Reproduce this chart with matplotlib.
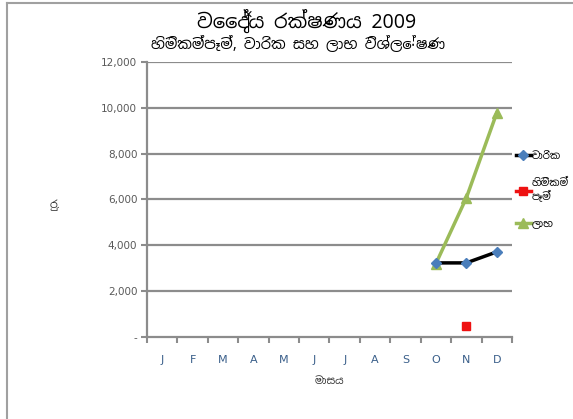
import matplotlib
matplotlib.use("Agg")
import matplotlib.pyplot as plt
from matplotlib.lines import Line2D

SI = ["Noto Sans Sinhala", "Noto Sans Sinhala UI", "DejaVu Sans"]

months = ["J", "F", "M", "A", "M", "J", "J", "A", "S", "O", "N", "D"]
# only Oct-Dec have data (index 9..11)
data_idx = [9, 10, 11]
premiums = [3230, 3230, 3710]      # වාරික
claims = [None, 480, None]         # හිමිකම් පෑම්
profit = [3200, 6070, 9780]        # ලාභ
y_ticks = [0, 2000, 4000, 6000, 8000, 10000, 12000]
y_labels = ["-", "2,000", "4,000", "6,000", "8,000", "10,000", "12,000"]

title = "වෛද්‍ය රක්ෂණය 2009"
subtitle = "හිමිකම්පෑම්, වාරික සහ ලාභ විශ්ලේෂණ"

fig = plt.figure(figsize=(5.73, 4.19), dpi=100)
ax = fig.add_axes([0.2565, 0.196, 0.637, 0.656])

grid_c = "#8c8c8c"
for y in y_ticks[1:]:
    ax.axhline(y, color=grid_c, lw=1.6, zorder=1)

ax.plot(data_idx, premiums, color="black", lw=2.5, marker="D", ms=5,
        mfc="#4a7ebb", mec="#4a7ebb", zorder=3)
cl_x = [i for i, v in zip(data_idx, claims) if v is not None]
cl_y = [v for v in claims if v is not None]
ax.plot(cl_x, cl_y, ls="none", marker="s", ms=6, mfc="#ee1111", mec="#ee1111", zorder=3)
ax.plot(data_idx, profit, color="#9bbb59", lw=2.5, marker="^", ms=7,
        mfc="#9bbb59", mec="#9bbb59", zorder=2)

ax.set_xlim(-0.5, 11.5)
ax.set_ylim(0, 12000)
ax.set_yticks(y_ticks)
ax.set_yticklabels(y_labels, color="#595959", fontsize=7.5)
ax.set_xticks(range(12))
ax.set_xticklabels(months, color="#3a5f8a", fontsize=8)
ax.set_xticks([i - 0.5 for i in range(13)], minor=True)
ax.tick_params(axis="x", which="major", length=0, pad=13)
ax.tick_params(axis="x", which="minor", length=4, width=1.5, color=grid_c)
ax.tick_params(axis="y", length=4, width=1.5, color=grid_c, pad=3)
for s in ["top", "right"]:
    ax.spines[s].set_visible(False)
for s in ["left", "bottom"]:
    ax.spines[s].set_color(grid_c)
    ax.spines[s].set_linewidth(1.6)

ax.set_xlabel("මාසය", family=SI, fontsize=7.5, color="#333333", labelpad=8)
fig.text(0.096, 0.51, "රු.", family=SI, fontsize=8, color="#333333", ha="center", va="center")

fig.text(0.535, 0.95, title, family=SI, fontsize=14, fontweight="bold",
         ha="center", va="center")
fig.text(0.52, 0.893, subtitle, family=SI, fontsize=10.5, ha="center", va="center")

handles = [
    Line2D([], [], color="black", lw=2.5, marker="D", ms=5, mfc="#4a7ebb", mec="#4a7ebb"),
    Line2D([], [], color="#ee1111", lw=2.5, marker="s", ms=6, mfc="#ee1111", mec="#ee1111"),
    Line2D([], [], color="#9bbb59", lw=2.5, marker="^", ms=7, mfc="#9bbb59", mec="#9bbb59"),
]
labels = ["වාරික", "හිමිකම්\nපෑම්", "ලාභ"]
leg = fig.legend(handles, labels, loc="upper left", bbox_to_anchor=(0.886, 0.66),
                 frameon=False, handlelength=1.5, handletextpad=0.05,
                 borderpad=0.3, labelspacing=1.6, prop={"family": SI, "size": 7.3})

# outer chart border (top and left visible)
fig.add_artist(Line2D([0.013, 1.0], [0.994, 0.994], color="#a0a0a0", lw=1.5))
fig.add_artist(Line2D([0.013, 0.013], [0.0, 0.994], color="#a0a0a0", lw=1.5))

fig.savefig("out.png", dpi=100)
